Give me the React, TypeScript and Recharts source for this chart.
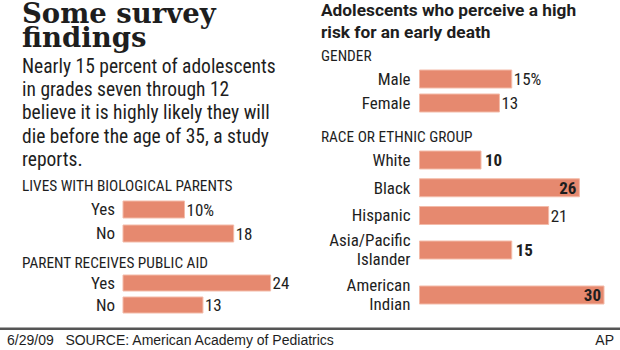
import { Bar, BarChart, LabelList, XAxis, YAxis } from "recharts";

// values (percent)
const parentsLabels = ["Yes", "No"];
const parentsValues = [10, 18];

const aidLabels = ["Yes", "No"];
const aidValues = [24, 13];

const genderLabels = ["Male", "Female"];
const genderValues = [15, 13];

const raceLabels = ["White", "Black", "Hispanic", "Asia/Pacific\nIslander", "American\nIndian"];
const raceValues = [10, 26, 21, 15, 30];
const raceEmphasis = ["White", "Black", "Asia/Pacific\nIslander", "American\nIndian"];

const SANS = "'Liberation Sans Narrow', 'Roboto Condensed', Roboto, sans-serif";
const FILL = "#e6896f";
const EDGE = "#f3bba9";
const INK = "#1e1e1e";
const PAD = 14; // room above/below rows so two-line ticks are not clipped

type GroupProps = {
  labels: string[];
  values: number[];
  top: number;
  left: number;
  labelWidth: number;
  gap: number;
  step: number;
  barSize: number;
  suffix?: string;
  emphasis?: string[];
};

const CategoryTick = (props: any) => {
  const { x, y, payload } = props;
  const lines = String(payload.value).split("\n");
  const first = lines.length > 1 ? y - 4 : y + 6;
  return (
    <text x={x} y={first} textAnchor="end" fontFamily={SANS} fontSize={17} fill={INK}>
      {lines.map((line, i) => (
        <tspan key={i} x={x} dy={i === 0 ? 0 : 19}>
          {line}
        </tspan>
      ))}
    </text>
  );
};

const BarGroup = (props: GroupProps) => {
  const data = props.labels.map((label, i) => ({ label, value: props.values[i] }));
  const plotWidth = 184.5;
  const width = props.labelWidth + plotWidth + 40;
  const height = props.step * props.labels.length + PAD * 2;

  const renderValue = (p: any) => {
    const { x, y, width: w, height: h, value, index } = p;
    const end = Number(x) + Number(w);
    const cy = Number(y) + Number(h) / 2;
    const strong = (props.emphasis || []).includes(props.labels[index]);
    const inside = value >= 25;
    const text = index === 0 && props.suffix ? `${value}${props.suffix}` : `${value}`;
    return (
      <text
        x={inside ? end - 3 : end + (strong ? 4 : 2)}
        y={cy + 6}
        textAnchor={inside ? "end" : "start"}
        fontFamily={SANS}
        fontSize={17}
        fontWeight={strong ? 700 : 400}
        fill={INK}
      >
        {text}
      </text>
    );
  };

  return (
    <div style={{ position: "absolute", top: props.top - PAD, left: props.left }}>
      <BarChart
        width={width}
        height={height}
        data={data}
        layout="vertical"
        margin={{ top: PAD, right: 40, bottom: PAD, left: 0 }}
      >
        <XAxis type="number" domain={[0, 30]} hide />
        <YAxis
          type="category"
          dataKey="label"
          width={props.labelWidth}
          axisLine={false}
          tickLine={false}
          tickSize={0}
          tickMargin={props.gap}
          interval={0}
          tick={<CategoryTick />}
        />
        <Bar
          dataKey="value"
          barSize={props.barSize}
          fill={FILL}
          stroke={EDGE}
          strokeWidth={1}
          isAnimationActive={false}
        >
          <LabelList dataKey="value" content={renderValue} />
        </Bar>
      </BarChart>
    </div>
  );
};

const App = () => {
  return (
    <div
      style={{
        position: "absolute",
        top: 0,
        left: 0,
        width: 620,
        height: 350,
        background: "#fff",
        overflow: "hidden",
      }}
    >
      <svg width={620} height={350} style={{ position: "absolute", top: 0, left: 0 }}>
        <g fontFamily="'DejaVu Serif', serif" fontWeight={700} fontSize={27.5} fill={INK}>
          <text x={22} y={22.5}>Some survey</text>
          <text x={22} y={47}>findings</text>
        </g>
        <g fontFamily={SANS} fontSize={19.5} fill={INK}>
          <text x={22} y={72.7}>Nearly 15 percent of adolescents</text>
          <text x={22} y={96}>in grades seven through 12</text>
          <text x={22} y={119.3}>believe it is highly likely they will</text>
          <text x={22} y={142.6}>die before the age of 35, a study</text>
          <text x={22} y={166}>reports.</text>
        </g>
        <g fontFamily={SANS} fontSize={15.3} fill={INK}>
          <text x={22} y={190.7}>LIVES WITH BIOLOGICAL PARENTS</text>
          <text x={22} y={268}>PARENT RECEIVES PUBLIC AID</text>
          <text x={321} y={60.7}>GENDER</text>
          <text x={321} y={141.7}>RACE OR ETHNIC GROUP</text>
        </g>
        <g fontFamily="Roboto, sans-serif" fontWeight={700} fontSize={17.3} fill={INK}>
          <text x={321} y={16}>Adolescents who perceive a high</text>
          <text x={321} y={37.5}>risk for an early death</text>
        </g>
        <rect x={0} y={327.5} width={620} height={2.5} fill="#555" />
        <g fontFamily="'Liberation Sans', Arial, sans-serif" fontSize={14} fill={INK}>
          <text x={7} y={345}>6/29/09{"\u00a0\u00a0\u00a0"}SOURCE: American Academy of Pediatrics</text>
          <text x={614} y={345} textAnchor="end">AP</text>
        </g>
      </svg>

      <BarGroup labels={parentsLabels} values={parentsValues} top={196.6} left={0} labelWidth={123} gap={8} step={24} barSize={17} suffix="%" />
      <BarGroup labels={aidLabels} values={aidValues} top={272.3} left={0} labelWidth={123} gap={8} step={22} barSize={16} />

      <BarGroup labels={genderLabels} values={genderValues} top={67} left={300} labelWidth={119.5} gap={9} step={24} barSize={18} suffix="%" />
      <BarGroup labels={raceLabels.slice(0, 3)} values={raceValues.slice(0, 3)} top={145.6} left={300} labelWidth={119.5} gap={9} step={27.75} barSize={18} emphasis={raceEmphasis} />
      <BarGroup labels={raceLabels.slice(3, 4)} values={raceValues.slice(3, 4)} top={236} left={300} labelWidth={119.5} gap={9} step={28.5} barSize={18} emphasis={raceEmphasis} />
      <BarGroup labels={raceLabels.slice(4)} values={raceValues.slice(4)} top={281} left={300} labelWidth={119.5} gap={9} step={28.5} barSize={18} emphasis={raceEmphasis} />
    </div>
  );
};

export default App;
